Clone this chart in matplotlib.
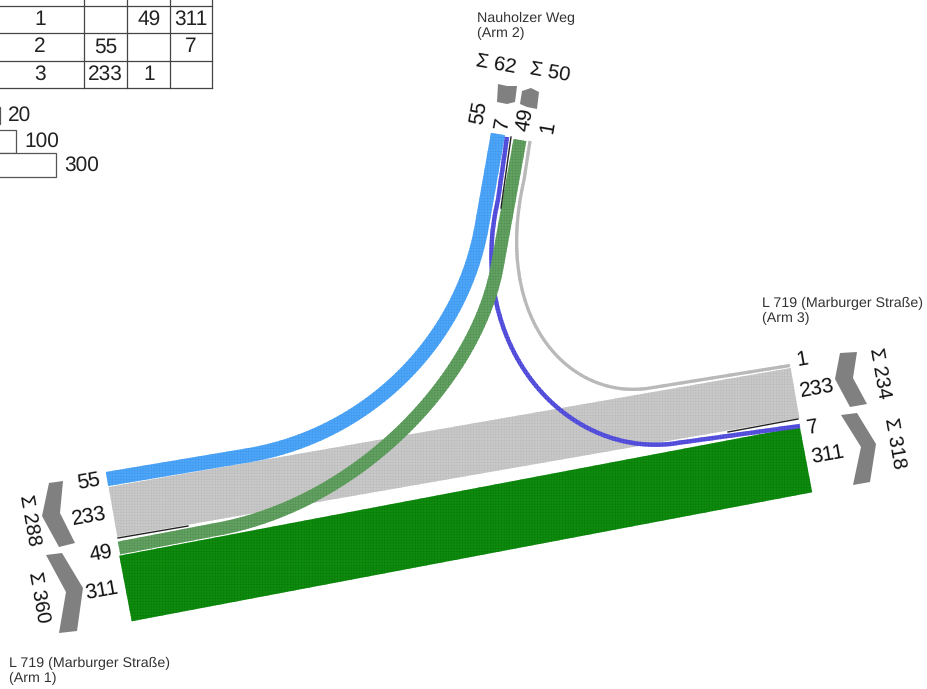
import matplotlib
matplotlib.use("Agg")
import matplotlib.pyplot as plt
from matplotlib.patches import PathPatch, Polygon, Rectangle
from matplotlib.path import Path
import numpy as np

plt.rcParams["font.family"] = ["Liberation Sans", "DejaVu Sans"]
plt.rcParams["hatch.linewidth"] = 0.35
plt.rcParams["text.hinting"] = "no_hinting"

# counts between the arms
flow_1_2 = 49
flow_1_3 = 311
flow_2_1 = 55
flow_2_3 = 7
flow_3_1 = 233
flow_3_2 = 1

matrix_rows = ["1", "2", "3"]
matrix = [["", "49", "311"], ["55", "", "7"], ["233", "1", ""]]
scale_values = [20, 100, 300]

sum_labels = ["Σ 288", "Σ 360", "Σ 62", "Σ 50", "Σ 234", "Σ 318"]
arm_names = ["L 719 (Marburger Straße)\n(Arm 1)", "Nauholzer Weg\n(Arm 2)",
             "L 719 (Marburger Straße)\n(Arm 3)"]

# ribbon routes in pixels: start, curve start, two control points, curve end, end
route_blue = [(107, 479), (250, 455), (369, 434), (462, 341), (482, 225), (498, 134)]
route_green = [(119, 548), (213, 530), (360, 505), (480, 375), (498, 262), (520, 140)]
route_purple = [(507, 137), (498, 200), (465, 340), (560, 455), (670, 444), (800, 426)]
route_grey = [(530, 141), (524, 180), (492, 320), (570, 401), (650, 388), (790, 365.5)]
route_through_grey = [(113, 512), (795, 393)]
route_through_green = [(125.5, 588.5), (806, 459.5)]


def centre_line(route):
    if len(route) == 2:
        return np.array(route, dtype=float)
    start, b0, c1, c2, b3, end = [np.array(p, dtype=float) for p in route]
    t = np.linspace(0, 1, 80)[:, None]
    curve = (1 - t) ** 3 * b0 + 3 * (1 - t) ** 2 * t * c1 + 3 * (1 - t) * t ** 2 * c2 + t ** 3 * b3
    return np.vstack([start, curve, end])


def ribbon(ax, route, value, color, hatch_color, z):
    pts = centre_line(route)
    width = value * 0.205 + 3
    tang = np.gradient(pts, axis=0)
    tang /= np.linalg.norm(tang, axis=1, keepdims=True)
    normal = np.column_stack([-tang[:, 1], tang[:, 0]])
    left = pts + normal * width / 2
    right = pts - normal * width / 2
    outline = np.vstack([left, right[::-1], left[0]])
    ax.add_patch(PathPatch(Path(outline), facecolor=color, edgecolor=hatch_color,
                           hatch="++++++", linewidth=0, zorder=z))


fig = plt.figure(figsize=(9.27, 6.89), dpi=100)
ax = fig.add_axes([0, 0, 1, 1])
ax.set_xlim(0, 927)
ax.set_ylim(689, 0)
ax.axis("off")

ribbon(ax, route_through_grey, flow_3_1, "#c9c9c9", "#bcbcbc", 1)
ribbon(ax, route_through_green, flow_1_3, "#0e8c0e", "#0a7c0a", 1)
ribbon(ax, route_blue, flow_2_1, "#4fa6f8", "#3f99ee", 2)
ribbon(ax, route_grey, flow_3_2, "#b9b9b9", "#b9b9b9", 2)
ribbon(ax, route_purple, flow_2_3, "#5a55e0", "#4a45d0", 2)
ribbon(ax, route_green, flow_1_2, "#63a263", "#529152", 3)

# black marks for the turning lanes
ax.plot([118, 188], [538, 526], color="#222222", lw=1.0, zorder=4)
ax.plot([728, 798], [432, 419], color="#222222", lw=1.0, zorder=4)
ax.plot([501, 511], [208, 137], color="#222222", lw=1.0, zorder=4)

# chevrons with the arm totals
chevrons = [
    [(49, 483), (63, 481), (60, 513), (75, 543), (59, 547), (42, 516)],
    [(46, 555), (62, 553), (83, 588), (77, 631), (59, 633), (66, 592)],
    [(498, 84), (507, 86), (517, 86), (515, 102), (507, 104), (497, 102)],
    [(522, 91), (531, 88), (539, 92), (537, 109), (527, 107), (520, 104)],
    [(840, 353), (857, 352), (853, 378), (867, 404), (850, 407), (835, 379)],
    [(841, 415), (857, 413), (876, 444), (870, 482), (853, 485), (861, 447)],
]
for c in chevrons:
    ax.add_patch(Polygon(c, closed=True, facecolor="#808080", edgecolor="none", zorder=2))

sum_xy = [(29, 520), (38, 597), (496, 65), (550, 73), (879, 373), (894, 443)]
sum_rot = [-80, -80, -10, -10, -80, -80]
for s, (x, y), r in zip(sum_labels, sum_xy, sum_rot):
    ax.text(x, y, s, fontsize=14.5, rotation=r, ha="center", va="center", color="#111111",
            rotation_mode="anchor")

# counts next to the ribbons
arm1_labels = [flow_2_1, flow_3_1, flow_1_2, flow_1_3]
arm1_xy = [(89, 481), (89, 516), (101, 553), (102, 591)]
arm2_labels = [flow_2_1, flow_2_3, flow_1_2, flow_3_2]
arm2_xy = [(479, 113), (503, 123), (525, 120), (548, 127)]
arm3_labels = [flow_3_2, flow_3_1, flow_2_3, flow_1_3]
arm3_xy = [(802, 360), (817, 388), (813, 428), (828, 455)]
for labels, xy, r in [(arm1_labels, arm1_xy, 10), (arm2_labels, arm2_xy, 80), (arm3_labels, arm3_xy, 10)]:
    for v, (x, y) in zip(labels, xy):
        ax.text(x, y, str(v), fontsize=15, rotation=r, ha="center", va="center", color="#111111",
                rotation_mode="anchor")

# arm names
ax.text(9, 671, arm_names[0], fontsize=10.3, color="#333333", ha="left", va="center", linespacing=1.2)
ax.text(477, 26, arm_names[1], fontsize=10.3, color="#333333", ha="left", va="center", linespacing=1.2)
ax.text(762, 311, arm_names[2], fontsize=10.3, color="#333333", ha="left", va="center", linespacing=1.2)

# matrix, cut off by the left edge of the page
col_x = [84, 127.5, 170, 212]
row_y = [5.5, 33, 61, 88]
for y in row_y:
    ax.plot([0, col_x[-1]], [y, y], color="#444444", lw=0.9, zorder=1)
for x in col_x:
    ax.plot([x, x], [0, row_y[-1]], color="#444444", lw=0.9, zorder=1)
for i, name in enumerate(matrix_rows):
    yc = (row_y[i] + row_y[i + 1]) / 2
    ax.text(40, yc, name, fontsize=15, ha="center", va="center", color="#222222")
    for j, cell in enumerate(matrix[i]):
        xc = (col_x[j] + col_x[j + 1]) / 2
        ax.text(xc, yc, cell, fontsize=15, ha="center", va="center", color="#222222")

# scale bars
bar_y = [(107, 17), (130, 23), (153, 24)]
for v, (y, h) in zip(scale_values, bar_y):
    right = -4 + v * 0.2
    ax.add_patch(Rectangle((right - 100, y), 100, h, facecolor="white", edgecolor="#555555", lw=0.9))
    ax.text(right + 8, y + h / 2, str(v), fontsize=15, ha="left", va="center", color="#222222")

fig.savefig("out.png", dpi=100)
